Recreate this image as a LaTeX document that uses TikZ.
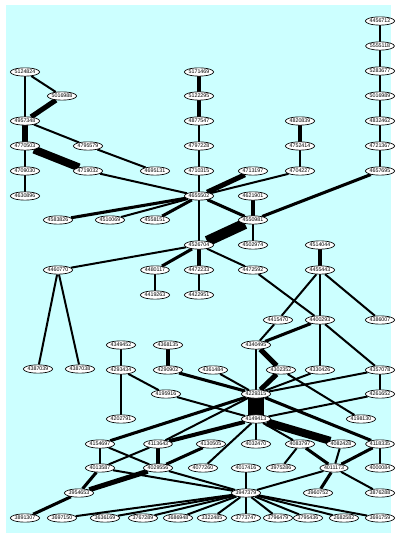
\documentclass[tikz,border=0pt]{standalone}
\usepackage{fontspec}
\setmainfont{Liberation Sans}
\usetikzlibrary{shapes.geometric,backgrounds}
\definecolor{bgcyan}{RGB}{204,255,255}
\begin{document}
\begin{tikzpicture}[
  x=0.75pt, y=-0.75pt,
  box/.style={draw, ellipse, fill=white, line width=0.5pt, inner sep=0pt, minimum width=19pt, minimum height=6.2pt, font=\fontsize{4}{4}\selectfont},
  w1/.style={line width=1pt},
  w2/.style={line width=1.5pt},
  w3/.style={line width=2.3pt},
  w4/.style={line width=3pt},
  w5/.style={line width=3.8pt},
  w8/.style={line width=6pt},
  w12/.style={line width=12pt}
]
\useasboundingbox (0,0) rectangle (397,534);
% top ranks
\node[box] (n5124824) at (25,72) {5124824};
\node[box] (n5171469) at (199,72) {5171469};
\node[box] (n4456712) at (380,21) {4456712};
\node[box] (n5555118) at (380,46) {5555118};
\node[box] (n5283677) at (380,71) {5283677};
\node[box] (n5016989) at (380,96) {5016989};
\node[box] (n4832462) at (380,121) {4832462};
\node[box] (n4721367) at (380,146) {4721367};
\node[box] (n4657695) at (380,171) {4657695};
\node[box] (n5016988) at (62,96) {5016988};
\node[box] (n5122295) at (199,96) {5122295};
\node[box] (n4957348) at (25,121) {4957348};
\node[box] (n4877547) at (199,121) {4877547};
\node[box] (n4820839) at (300,121) {4820839};
\node[box] (n4770503) at (25,146) {4770503};
\node[box] (n4795579) at (88,146) {4795579};
\node[box] (n4797228) at (199,146) {4797228};
\node[box] (n4752414) at (300,146) {4752414};
\node[box] (n4709030) at (25,171) {4709030};
\node[box] (n4719032) at (88,171) {4719032};
\node[box] (n4695131) at (155,171) {4695131};
\node[box] (n4710315) at (199,171) {4710315};
\node[box] (n4713197) at (253,171) {4713197};
\node[box] (n4704227) at (300,171) {4704227};
\node[box] (n4630896) at (25,196) {4630896};
\node[box] (n4655502) at (199,196) {4655502};
\node[box] (n4621901) at (253,196) {4621901};
\node[box] (n4583826) at (58,220) {4583826};
\node[box] (n4510069) at (110,220) {4510069};
\node[box] (n4558151) at (155,220) {4558151};
\node[box] (n4550981) at (253,220) {4550981};
\node[box] (n4526704) at (199,245) {4526704};
\node[box] (n4502974) at (253,245) {4502974};
\node[box] (n4514044) at (320,245) {4514044};
\node[box] (n4460770) at (58,270) {4460770};
\node[box] (n4480117) at (155,270) {4480117};
\node[box] (n4472233) at (199,270) {4472233};
\node[box] (n4472592) at (253,270) {4472592};
\node[box] (n4455443) at (320,270) {4455443};
\node[box] (n4419263) at (155,295) {4419263};
\node[box] (n4422951) at (199,295) {4422951};
% middle ranks
\node[box] (n4415470) at (278,320) {4415470};
\node[box] (n4400293) at (320,320) {4400293};
\node[box] (n4386007) at (380,320) {4386007};
\node[box] (n4349452) at (121,345) {4349452};
\node[box] (n4368135) at (168,345) {4368135};
\node[box] (n4340495) at (256,345) {4340495};
\node[box] (n4387039) at (38,369) {4387039};
\node[box] (n4387038) at (80,369) {4387038};
\node[box] (n4293434) at (121,370) {4293434};
\node[box] (n4290902) at (168,370) {4290902};
\node[box] (n4361484) at (213,370) {4361484};
\node[box] (n4302352) at (281,370) {4302352};
\node[box] (n4330426) at (320,370) {4330426};
\node[box] (n4357078) at (380,370) {4357078};
\node[box] (n4195916) at (166,394) {4195916};
\node[box] (n4229315) at (256,394) {4229315};
\node[box] (n4261652) at (380,394) {4261652};
% lower ranks
\node[box] (n4202791) at (121,419) {4202791};
\node[box] (n4149413) at (256,419) {4149413};
\node[box] (n4198130) at (361,419) {4198130};
\node[box] (n4154697) at (100,444) {4154697};
\node[box] (n4113643) at (158,444) {4113643};
\node[box] (n4130505) at (211,444) {4130505};
\node[box] (n4032470) at (256,444) {4032470};
\node[box] (n4083797) at (300,444) {4083797};
\node[box] (n4082428) at (341,444) {4082428};
\node[box] (n4118335) at (380,444) {4118335};
\node[box] (n4013587) at (100,468) {4013587};
\node[box] (n4029556) at (158,468) {4029556};
\node[box] (n4077260) at (203,468) {4077260};
\node[box] (n4017416) at (246,468) {4017416};
\node[box] (n3975286) at (281,468) {3975286};
\node[box] (n4011173) at (334,468) {4011173};
\node[box] (n4000084) at (380,468) {4000084};
\node[box] (n3954653) at (79,493) {3954653};
\node[box] (n3947379) at (246,493) {3947379};
\node[box] (n3960752) at (318,493) {3960752};
\node[box] (n3876288) at (380,493) {3876288};
\node[box] (n3891307) at (25,518) {3891307};
\node[box] (n3697150) at (62,518) {3697150};
\node[box] (n3636169) at (105,518) {3636169};
\node[box] (n3767289) at (143,518) {3767289};
\node[box] (n3686948) at (178,518) {3686948};
\node[box] (n3322485) at (212,518) {3322485};
\node[box] (n3773747) at (246,518) {3773747};
\node[box] (n3796479) at (278,518) {3796479};
\node[box] (n3795436) at (308,518) {3795436};
\node[box] (n2682582) at (344,518) {2682582};
\node[box] (n3691759) at (380,518) {3691759};
\begin{scope}[on background layer]
\fill[bgcyan] (6,5) rectangle (391,533);
% upper edges
\draw[w2] (n5124824) -- (n4957348);
\draw[w2] (n5124824) -- (n5016988);
\draw[w5] (n5016988) -- (n4957348);
\draw[w5] (n4957348) -- (n4770503);
\draw[w2] (n4957348) -- (n4795579);
\draw[w2] (n4795579) -- (n4695131);
\draw[w2] (n4770503) -- (n4709030);
\draw[w2] (n4709030) -- (n4630896);
\draw[w8] (n4770503) -- (n4719032);
\draw[w2] (n4719032) -- (n4655502);
\draw[w3] (n4583826) -- (n4655502);
\draw[w2] (n4510069) -- (n4655502);
\draw[w3] (n4558151) -- (n4655502);
\draw[w3] (n5171469) -- (n5122295);
\draw[w4] (n5122295) -- (n4877547);
\draw[w1] (n4877547) -- (n4797228);
\draw[w1] (n4797228) -- (n4710315);
\draw[w1] (n4710315) -- (n4655502);
\draw[w5] (n4713197) -- (n4655502);
\draw[w3] (n4655502) -- (n4550981);
\draw[w1] (n4655502) -- (n4526704);
\draw[w3] (n4621901) -- (n4550981);
\draw[w2] (n4550981) -- (n4502974);
\draw[line width=8pt] (n4550981) -- (n4526704);
\draw[w3] (n4657695) -- (n4550981);
\draw[w2] (n4704227) -- (n4655502);
\draw[w4] (n4820839) -- (n4752414);
\draw[w2] (n4752414) -- (n4704227);
\draw[w2] (n4456712) -- (n5555118) -- (n5283677) -- (n5016989) -- (n4832462) -- (n4721367) -- (n4657695);
\draw[w3] (n4526704) -- (n4480117);
\draw[w3] (n4526704) -- (n4472233);
\draw[w2] (n4526704) -- (n4472592);
\draw[w2] (n4480117) -- (n4419263);
\draw[w2] (n4472233) -- (n4422951);
\draw[w2] (n4460770) -- (n4526704);
\draw[w2] (n4460770) -- (n4387039);
\draw[w2] (n4460770) -- (n4387038);
\draw[w3] (n4514044) -- (n4455443);
% middle edges
\draw[w2] (n4472592) -- (n4400293);
\draw[w2] (n4455443) -- (n4415470);
\draw[w2] (n4455443) -- (n4400293);
\draw[w2] (n4455443) -- (n4386007);
\draw[w2] (n4415470) -- (n4340495);
\draw[w3] (n4400293) -- (n4340495);
\draw[w2] (n4400293) -- (n4330426);
\draw[w2] (n4400293) -- (n4357078);
\draw[w2] (n4349452) -- (n4293434);
\draw[w4] (n4368135) -- (n4290902);
\draw[w2] (n4293434) -- (n4202791);
\draw[w2] (n4293434) -- (n4195916);
\draw[w3] (n4290902) -- (n4229315);
\draw[w2] (n4361484) -- (n4229315);
\draw[w2] (n4340495) -- (n4229315);
\draw[w5] (n4340495) -- (n4302352);
\draw[w5] (n4302352) -- (n4229315);
\draw[w2] (n4330426) -- (n4229315);
\draw[w2] (n4357078) -- (n4229315);
\draw[w2] (n4302352) -- (n4198130);
\draw[w2] (n4357078) -- (n4261652);
\draw[w2] (n4195916) -- (n4149413);
\draw[w2] (n4261652) -- (n4149413);
% lower edges
\draw[w12] (n4229315) -- (n4149413);
\draw[w3] (n4229315) -- (n4154697);
\draw[w2] (n4229315) -- (n4113643);
\draw[w3] (n4229315) -- (n4118335);
\draw[w4] (n4149413) -- (n4113643);
\draw[w8] (n4149413) -- (n4082428);
\draw[w2] (n4149413) -- (n4083797);
\draw[w2] (n4149413) -- (n4032470);
\draw[w2] (n4149413) -- (n4077260);
\draw[w2] (n4154697) -- (n4013587);
\draw[w2] (n4154697) -- (n4029556);
\draw[w2] (n4013587) -- (n4113643);
\draw[w3] (n4113643) -- (n4029556);
\draw[w3] (n4130505) -- (n4029556);
\draw[w5] (n4029556) -- (n3954653);
\draw[w3] (n4013587) -- (n3954653);
\draw[w3] (n3954653) -- (n3891307);
\draw[w2] (n4013587) -- (n3947379);
\draw[w2] (n4029556) -- (n3947379);
\draw[w2] (n4017416) -- (n3947379);
\draw[w2] (n4011173) -- (n3947379);
\draw[w2] (n4083797) -- (n3975286);
\draw[w3] (n4083797) -- (n4011173);
\draw[w2] (n4082428) -- (n4011173);
\draw[w3] (n4118335) -- (n4011173);
\draw[w2] (n4118335) -- (n4000084);
\draw[w3] (n4011173) -- (n3960752);
\draw[w2] (n4011173) -- (n3876288);
\foreach \leaf in {3697150,3636169,3767289,3686948,3322485,3773747,3796479,3795436,2682582,3691759}
  \draw[w2] (n3947379) -- (n\leaf);
\end{scope}
\end{tikzpicture}
\end{document}
